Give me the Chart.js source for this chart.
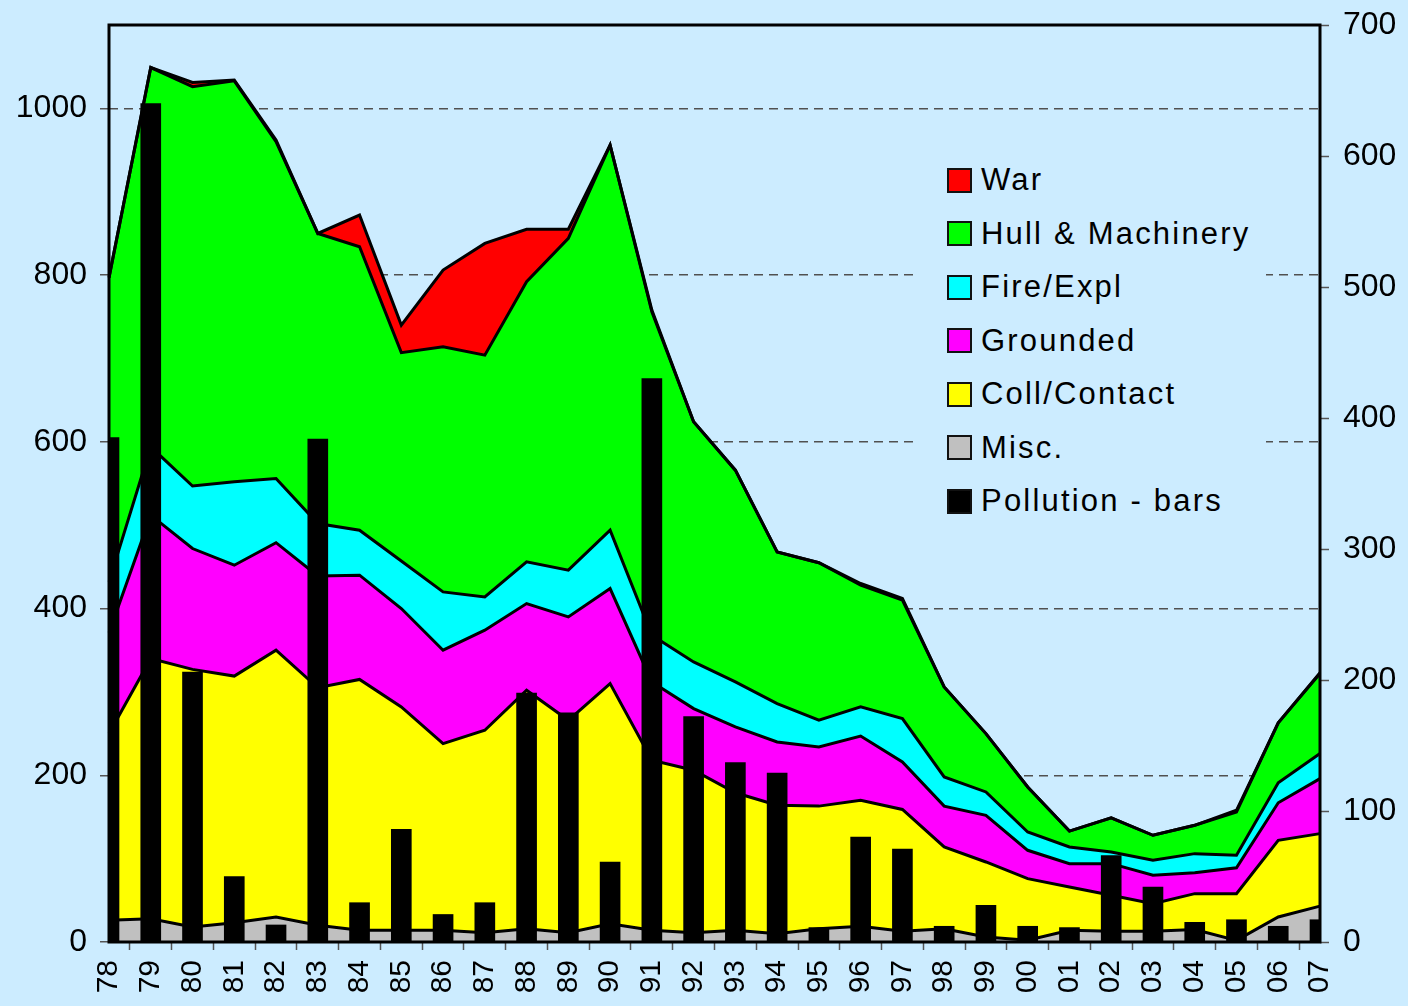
<!DOCTYPE html>
<html>
<head>
<meta charset="utf-8">
<script src="https://cdn.jsdelivr.net/npm/chart.js@4.4.1/dist/chart.umd.min.js"></script>
<style>
  body { margin: 0; background: #ccecff; }
  #wrap { position: relative; width: 1408px; height: 1006px; }
  #legend { position: absolute; left: 918px; top: 150px; width: 348px; height: 392px; background: #ccecff; }
  .item { position: absolute; left: 29px; height: 30px; display: flex; align-items: center;
          font: 31px "Liberation Sans", Arial, sans-serif; letter-spacing: 2.2px; color: #000; white-space: nowrap; }
  .swatch { width: 25px; height: 25px; box-sizing: border-box; border: 2px solid #111; margin-right: 9px; }
</style>
</head>
<body>
<div id="wrap">
  <canvas id="chart" width="1408" height="1006"></canvas>
  <div id="legend"></div>
</div>
<script>
/* ---- data ---- */
const years = ['78','79','80','81','82','83','84','85','86','87','88','89','90','91','92',
               '93','94','95','96','97','98','99','00','01','02','03','04','05','06','07'];

const misc          = [26, 28, 18, 23, 30, 20, 14, 14, 14, 11, 16, 11, 22, 14, 11, 14, 10, 16, 19, 13, 16, 6, 2, 14, 13, 13, 15, 2, 30, 43];
const collContact   = [224, 312, 309, 296, 320, 285, 301, 268, 224, 243, 286, 255, 288, 204, 195, 165, 154, 147, 151, 146, 98, 90, 74, 52, 43, 33, 43, 56, 92, 87];
const grounded      = [121, 172, 145, 133, 129, 134, 125, 118, 112, 120, 104, 124, 114, 94, 74, 79, 76, 71, 77, 57, 49, 56, 34, 28, 38, 34, 25, 31, 45, 66];
const fireExpl      = [61, 82, 75, 100, 77, 63, 54, 57, 70, 40, 50, 56, 70, 56, 56, 54, 46, 32, 35, 52, 35, 28, 22, 20, 14, 18, 23, 15, 24, 30];
const hullMachinery = [365, 455, 479, 481, 404, 348, 340, 250, 294, 290, 336, 398, 462, 388, 288, 254, 182, 189, 146, 142, 108, 70, 54, 19, 41, 30, 34, 52, 72, 96];
const war           = [0, 0, 5, 1, 2, 0, 38, 33, 92, 134, 63, 11, 0, 2, 0, 0, 0, 0, 2, 2, 0, 0, 0, 0, 0, 0, 0, 2, 0, 1];
const pollution     = [385, 640, 206, 50, 13, 384, 30, 86, 21, 30, 190, 175, 61, 430, 172, 137, 129, 11, 80, 71, 12, 28, 12, 11, 66, 42, 15, 17, 12, 17];

const seriesNames  = ['Misc.', 'Coll/Contact', 'Grounded', 'Fire/Expl', 'Hull & Machinery', 'War'];
const seriesData   = [misc, collContact, grounded, fireExpl, hullMachinery, war];
const seriesColors = ['#c0c0c0', '#ffff00', '#ff00ff', '#00ffff', '#00ff00', '#ff0000'];
const barName = 'Pollution - bars';
const barColor = '#000000';

const leftTicks = { min: 0, max: 1100, step: 200 };
const rightTicks = { min: 0, max: 700, step: 100 };

/* ---- chart ---- */
const tickFont = { family: '"Liberation Sans", Arial, sans-serif', size: 32 };

const areaSets = seriesNames.map((name, i) => ({
  type: 'line',
  label: name,
  data: seriesData[i],
  yAxisID: 'y',
  order: i + 1,
  fill: i === 0 ? 'origin' : '-1',
  backgroundColor: seriesColors[i],
  borderColor: '#000',
  borderWidth: 3,
  tension: 0,
  pointRadius: 0
}));

const barSet = {
  type: 'bar',
  label: barName,
  data: pollution,
  yAxisID: 'y1',
  order: -1,
  backgroundColor: barColor,
  borderWidth: 0,
  barThickness: 20,
  clip: 0
};

// black frame round the plot area
const frame = {
  id: 'frame',
  afterDatasetsDraw(chart) {
    const { ctx, chartArea: a } = chart;
    ctx.save();
    ctx.strokeStyle = '#000';
    ctx.lineWidth = 3;
    ctx.strokeRect(a.left, a.top, a.right - a.left, a.bottom - a.top);
    ctx.restore();
  }
};

// fixed axis sizes so the plot area sits where the original has it
function fitY(width) {
  return scale => { scale.width = width; scale.paddingTop = 0; scale.paddingBottom = 0; };
}

new Chart(document.getElementById('chart'), {
  data: { labels: years, datasets: [...areaSets, barSet] },
  plugins: [frame],
  options: {
    responsive: false,
    animation: false,
    layout: { padding: { top: 25, left: 0, right: 0, bottom: 0 } },
    plugins: {
      legend: { display: false },
      tooltip: { enabled: false },
      filler: { drawTime: 'beforeDatasetsDraw' }
    },
    scales: {
      x: {
        offset: false,
        grid: { drawOnChartArea: false, drawTicks: true, tickLength: 8, tickColor: '#555', tickWidth: 1.5 },
        border: { display: false },
        ticks: { color: '#000', font: { ...tickFont, size: 30 }, minRotation: 90, maxRotation: 90, autoSkip: false, padding: 10 },
        afterFit(scale) { scale.height = 64; scale.paddingLeft = 0; scale.paddingRight = 0; }
      },
      y: {
        position: 'left',
        stacked: true,
        min: leftTicks.min,
        max: leftTicks.max,
        grid: { color: '#505050', lineWidth: 1.5, tickLength: 9, tickColor: '#555', tickWidth: 1.5, tickBorderDash: [] },
        border: { display: false, dash: [9, 6] },
        ticks: { stepSize: leftTicks.step, includeBounds: false, color: '#000', font: tickFont, padding: 13,
                 callback: v => String(v) },
        afterFit: fitY(109)
      },
      y1: {
        position: 'right',
        min: rightTicks.min,
        max: rightTicks.max,
        grid: { drawOnChartArea: false, tickLength: 9, tickColor: '#555', tickWidth: 1.5 },
        border: { display: false },
        ticks: { stepSize: rightTicks.step, color: '#000', font: tickFont, padding: 14,
                 callback: v => String(v) },
        afterFit: fitY(88)
      }
    }
  }
});

/* ---- legend (top to bottom: War ... Misc., then bars) ---- */
const legendEl = document.getElementById('legend');
const legendItems = seriesNames.map((n, i) => ({ name: n, color: seriesColors[i] })).reverse();
legendItems.push({ name: barName, color: barColor });
legendItems.forEach((it, i) => {
  const row = document.createElement('div');
  row.className = 'item';
  row.style.top = (30 + i * 53.5 - 15) + 'px';
  const sw = document.createElement('span');
  sw.className = 'swatch';
  sw.style.background = it.color;
  row.appendChild(sw);
  row.appendChild(document.createTextNode(it.name));
  legendEl.appendChild(row);
});
</script>
</body>
</html>
